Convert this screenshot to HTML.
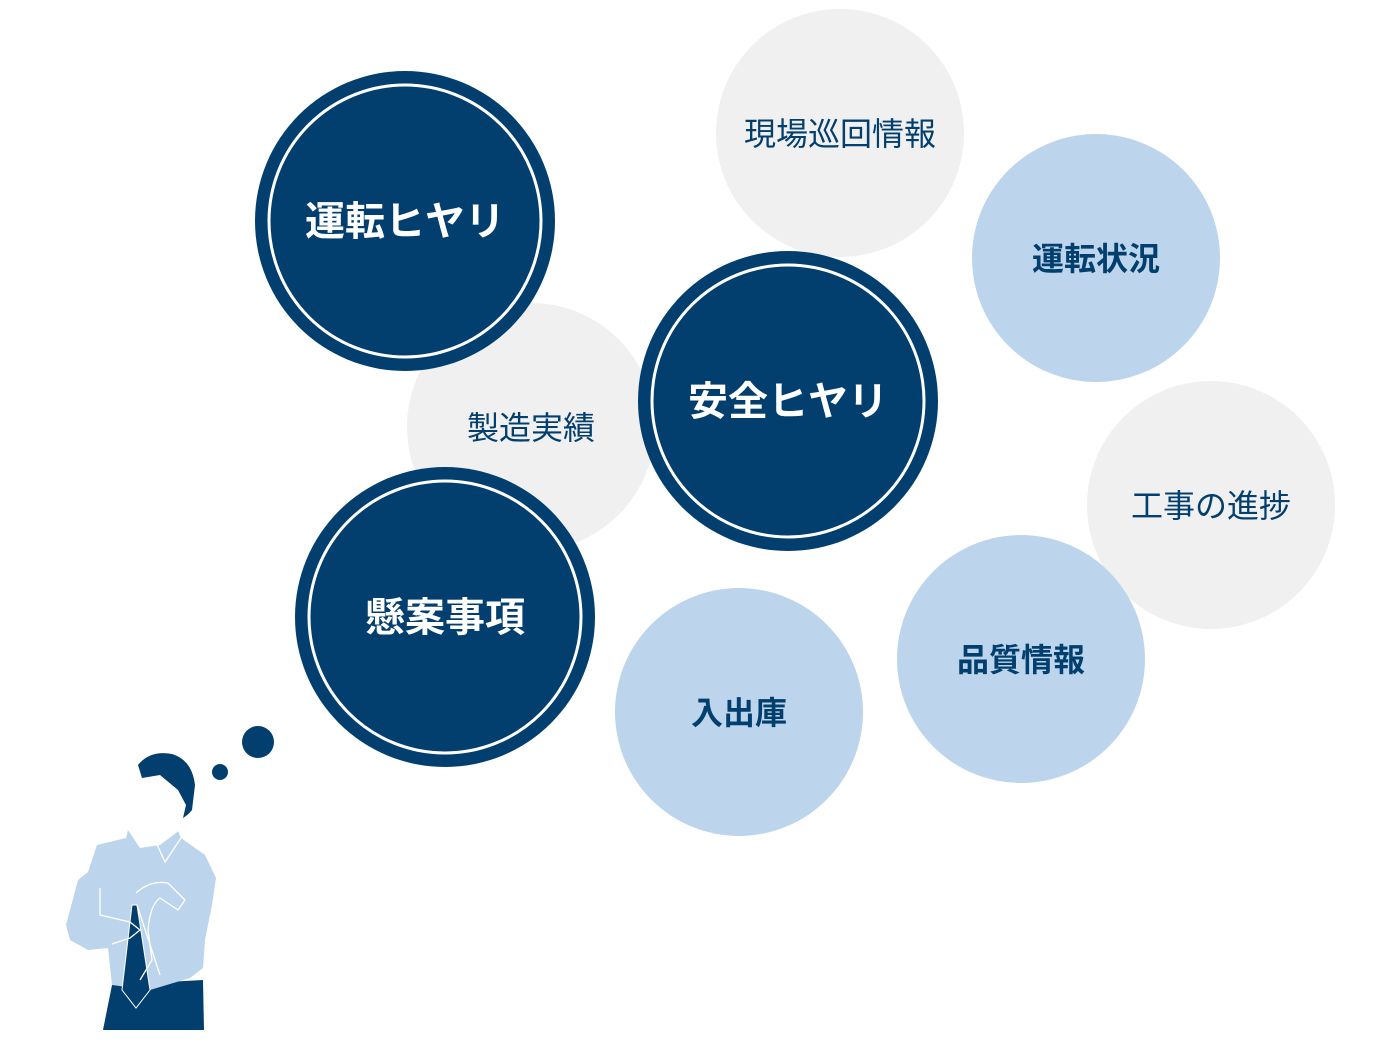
<!DOCTYPE html>
<html><head><meta charset="utf-8">
<style>
html,body{margin:0;padding:0;background:#fff;}
body{width:1400px;height:1040px;overflow:hidden;}
svg text{font-family:"Liberation Sans","Noto Sans CJK JP",sans-serif;}
</style></head>
<body>
<svg width="1400" height="1040" viewBox="0 0 1400 1040" xmlns="http://www.w3.org/2000/svg">
<circle cx="840" cy="133" r="124" fill="#f0f0f0"/>
<circle cx="531" cy="427" r="124" fill="#f0f0f0"/>
<circle cx="1211" cy="505" r="124" fill="#f0f0f0"/>
<circle cx="1096" cy="258" r="124" fill="#bcd5ed"/>
<circle cx="1021" cy="659" r="124" fill="#bcd5ed"/>
<circle cx="739" cy="712" r="124" fill="#bcd5ed"/>
<g fill="#033f6e">
<circle cx="405" cy="221" r="150"/>
<circle cx="788" cy="401" r="150"/>
<circle cx="445" cy="617" r="150"/>
<circle cx="258" cy="742" r="16"/>
<circle cx="220" cy="772" r="8"/>
</g>
<g fill="none" stroke="#fff" stroke-width="3">
<circle cx="405" cy="221" r="136"/>
<circle cx="788" cy="401" r="136"/>
<circle cx="445" cy="617" r="136"/>
</g>
<g text-anchor="middle" font-weight="bold" fill="#fff" font-size="40">
<text x="405" y="235">運転ヒヤリ</text>
<text x="788" y="415">安全ヒヤリ</text>
<text x="445" y="631">懸案事項</text>
</g>
<g text-anchor="middle" font-weight="bold" fill="#033f6e" font-size="32">
<text x="1096" y="270">運転状況</text>
<text x="1021" y="671">品質情報</text>
<text x="739" y="724">入出庫</text>
</g>
<g text-anchor="middle" fill="#033f6e" font-size="32">
<text x="840" y="145">現場巡回情報</text>
<text x="531" y="439">製造実績</text>
<text x="1211" y="517">工事の進捗</text>
</g>
<g>
<path d="M112 985 L203 980 L204 1030 L103 1030 Z" fill="#033f6e"/>
<path d="M97 845 L126 838 L128 830 L155 840 L177 828 L181 838 L205 855 L216 878 L212 905 L205 940 L203 968 L190 978 L150 990 L112 985 L108 948 L88 950 L70 940 L66 925 L78 880 L88 872 Z" fill="#bcd5ed"/>
<path d="M128 830 L136 800 L178 805 L180 830 L160 845 L140 848 Z" fill="#fff"/>
<path d="M132 905 L137 905 L150 990 L136 1008 L122 990 Z" fill="#033f6e" stroke="#fff" stroke-width="1"/>
<g fill="none" stroke="#fff" stroke-width="1.3">
<path d="M136 893 Q150 880 168 883 L185 900 L178 910 L160 898 Q150 905 148 930 L152 960 L140 980"/>
<path d="M100 888 L100 915 L130 922 L140 930 L130 938 L112 944"/>
<path d="M155 840 L165 862 L181 838"/>
<path d="M137 905 L160 975"/>
</g>
<path d="M138 765 Q150 750 172 754 Q192 760 195 785 L192 810 Q188 815 183 818 L186 805 L178 790 L160 775 L142 778 Z" fill="#033f6e"/>
</g>
</svg>
</body></html>
